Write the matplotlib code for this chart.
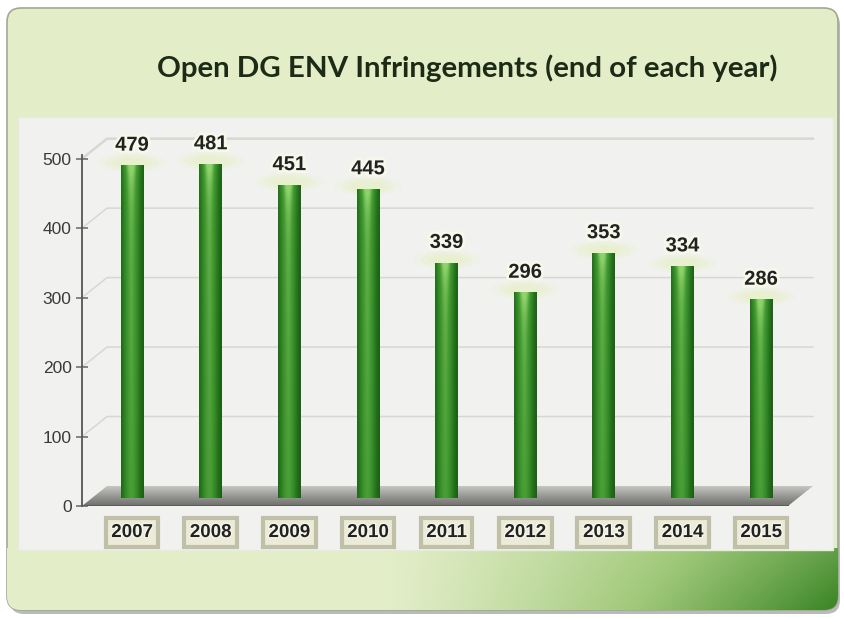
"""
Open DG ENV infringements per year, 3D-look column chart.
"""
import numpy as np
import matplotlib
matplotlib.use('Agg')
import matplotlib.pyplot as plt
import matplotlib.patheffects as pe
from matplotlib.patches import FancyBboxPatch, Rectangle, Polygon, Ellipse
from matplotlib.colors import LinearSegmentedColormap

years = ['2007', '2008', '2009', '2010', '2011', '2012', '2013', '2014', '2015']
values = [479, 481, 451, 445, 339, 296, 353, 334, 286]
yticks = [0, 100, 200, 300, 400, 500]
TITLE = 'Open DG ENV Infringements (end of each year)'

W, H = 844, 617
SANS = ['Liberation Sans', 'DejaVu Sans']
NARROW = ['Liberation Sans Narrow', 'Liberation Sans', 'DejaVu Sans']

fig = plt.figure(figsize=(W / 100, H / 100), dpi=100)
fig.patch.set_facecolor('white')

# ---- background: frame, bottom gradient, inner panel, title (pixel coords)
bg = fig.add_axes([0, 0, 1, 1])
bg.axis('off')

shadow = FancyBboxPatch((10, 11), 830, 603, boxstyle='round,pad=0,rounding_size=14',
                        fc='#7f857a', ec='none', alpha=0.55, zorder=0)
frame = FancyBboxPatch((7, 8), 831, 602, boxstyle='round,pad=0,rounding_size=14',
                       fc='#e3eec9', ec='#a2a896', lw=1.2, zorder=1)
bg.add_patch(shadow)
bg.add_patch(frame)

gx, gy = np.meshgrid(np.linspace(0, 1, 300), np.linspace(0, 1, 60))
t = np.clip((gx - 0.45) / 0.55, 0, 1) ** 1.2 * (0.8 + 0.2 * gy)
cmap_bot = LinearSegmentedColormap.from_list('bot', ['#e3eec9', '#9fc878', '#3a8526'])
im = bg.imshow(t, extent=(7, 838, 610, 548), origin='upper', cmap=cmap_bot,
               vmin=0, vmax=1, aspect='auto', zorder=2)
im.set_clip_path(frame)

panel = Rectangle((18, 117), 815, 433, fc='#f1f2f0', ec='#e6eadf', lw=1, zorder=3)
bg.add_patch(panel)

title = bg.text(467, 68, TITLE, ha='center', va='center', fontsize=19,
                fontweight='bold', family=['Lato', 'DejaVu Sans'], color='#1d2b16', zorder=5)
bg.set_xlim(0, W)
bg.set_ylim(H, 0)

fig.canvas.draw()
tw = title.get_window_extent(fig.canvas.get_renderer()).width
title.set_fontsize(19 * 621 / tw)

# ---- main chart axes
X0, X1 = -0.636, 8.66
YMAX = 560
DX, DY = 0.318, 28.8      # depth offset of back wall
BASE = 11.5               # bars stand mid-depth on the floor
PX_PER_UNIT = (506 - 117) / YMAX
ax = fig.add_axes([82 / W, (H - 506) / H, (813 - 82) / W, (506 - 117) / H])
ax.patch.set_alpha(0)

# back-wall gridlines
for v in yticks[1:]:
    ax.plot([X0, X0 + DX, X1], [v, v + DY, v + DY], color='#d6d8d2',
            lw=1.8 if v == 500 else 1.1, zorder=1, clip_on=False)

# floor
floor = Polygon([(X0, 0), (X1 - DX, 0), (X1, DY), (X0 + DX, DY)], closed=True,
                fc='none', ec='none')
ax.add_patch(floor)
floor_cmap = LinearSegmentedColormap.from_list('floor', ['#6f6f6b', '#9a9a96', '#cacac6'])
fimg = ax.imshow(np.linspace(0, 1, 50).reshape(-1, 1), extent=(X0, X1, 0, DY),
                 origin='lower', cmap=floor_cmap, aspect='auto', zorder=2)
fimg.set_clip_path(floor)
ax.plot([X0, X1 - DX], [0, 0], color='#5c5c58', lw=1.4, zorder=2.2)

# bars with cylinder shading
xs = np.arange(len(years))
bars = ax.bar(xs, values, width=0.29, bottom=BASE, color='none', zorder=3)
u = np.linspace(0, 1, 40)
horiz = np.exp(-((u - 0.45) / 0.34) ** 2)
bar_cmap = LinearSegmentedColormap.from_list('bar', ['#1a5a12', '#2f8424', '#4a9e36', '#8fd36c'])

for b in bars:
    x, y0 = b.get_x(), b.get_y()
    w, h = b.get_width(), b.get_height()
    for k, a in [(3.0, 0.18), (2.3, 0.22), (1.6, 0.3)]:
        ax.add_patch(Ellipse((x + w / 2, y0 + h + 4), width=w * k, height=9 * k,
                             fc='#e4f0b8', ec='none', alpha=a, zorder=2.5))
    hp = h * PX_PER_UNIT
    vpx = np.linspace(0, hp, 120)
    top = np.exp(-(hp - vpx) / 22.0)
    shade = 0.78 * horiz[None, :] * (0.85 + 0.15 * vpx[:, None] / hp) \
        + 0.3 * top[:, None] * horiz[None, :]
    bim = ax.imshow(np.clip(shade, 0, 1), extent=(x, x + w, y0, y0 + h), origin='lower',
                    cmap=bar_cmap, vmin=0, vmax=1, aspect='auto', zorder=3)
    bim.set_clip_path(b)

# value labels
for xi, v in zip(xs, values):
    ax.annotate(str(v), (xi, v + BASE), xytext=(0, 14.5), textcoords='offset points',
                ha='center', va='center', fontsize=14.5, fontweight='bold', color='#222222',
                family=SANS, zorder=6,
                path_effects=[pe.withStroke(linewidth=4, foreground='#f6f8ea')])

# axes styling
ax.set_xlim(X0, X1)
ax.set_ylim(0, YMAX)
for side in ['top', 'right', 'bottom']:
    ax.spines[side].set_visible(False)
ax.spines['left'].set_color('#555555')
ax.spines['left'].set_linewidth(1.3)
ax.spines['left'].set_bounds(0, 505)

ax.set_yticks(yticks)
ax.tick_params(axis='y', direction='inout', length=9, width=1.1, color='#666666',
               pad=3, labelsize=12.5, labelcolor='#3a3a3a')
for lab in ax.get_yticklabels():
    lab.set_family(NARROW)

ax.set_xticks(xs, years)
ax.tick_params(axis='x', length=0, pad=13, labelsize=13.5, labelcolor='#222222')
for lab in ax.get_xticklabels():
    lab.set_family(SANS)
    lab.set_fontweight('bold')
    lab.set_bbox(dict(boxstyle='square,pad=0.3', fc='#ebebd8', ec='#c0c0a8', lw=3))
    lab.set_path_effects([pe.withStroke(linewidth=2, foreground='#f5f5ea')])

fig.savefig('out.png', dpi=100, facecolor='white')
print('saved out.png')
